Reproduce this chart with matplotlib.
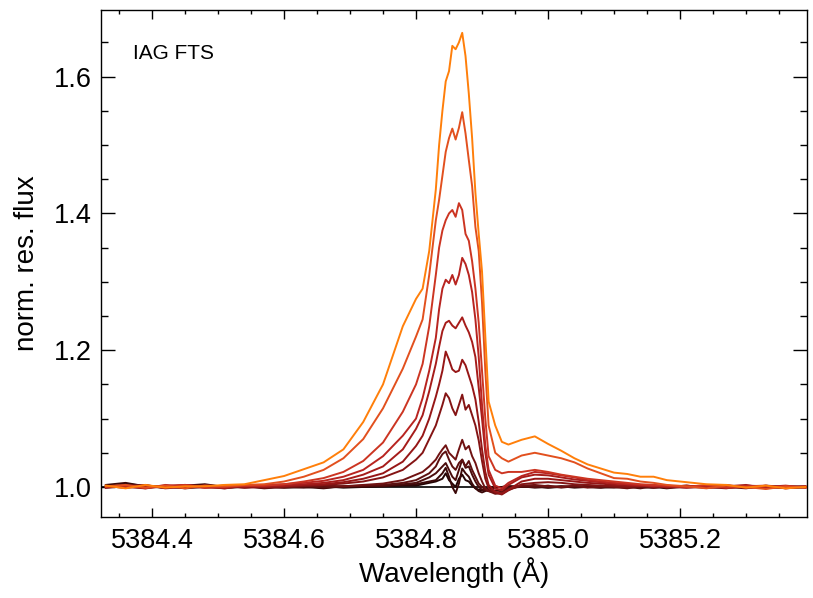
import matplotlib
matplotlib.use("Agg")
import matplotlib.pyplot as plt
from matplotlib.ticker import MultipleLocator

plt.rcParams['font.family'] = ['Liberation Sans', 'DejaVu Sans']

# wavelength grid (Angstrom)
wl = [5384.33, 5384.36, 5384.39, 5384.42, 5384.45, 5384.48, 5384.51, 5384.54,
      5384.57, 5384.60, 5384.63, 5384.66, 5384.69, 5384.72, 5384.75, 5384.78,
      5384.80, 5384.81, 5384.82, 5384.83, 5384.835, 5384.84, 5384.845, 5384.85,
      5384.855, 5384.86, 5384.865, 5384.87, 5384.875, 5384.88, 5384.885, 5384.89,
      5384.895, 5384.90, 5384.905, 5384.91, 5384.92, 5384.93, 5384.94,
      5384.96, 5384.98, 5385.00, 5385.02, 5385.04, 5385.06, 5385.08, 5385.10,
      5385.12, 5385.14, 5385.16, 5385.18, 5385.21, 5385.24, 5385.27, 5385.30,
      5385.33, 5385.36, 5385.39]

# residual flux profiles, strongest first
f01 = [1.002, 0.998, 1.003, 0.999, 1.001, 1.001, 1.003, 1.004, 1.010, 1.016, 1.026, 1.036, 1.055, 1.095, 1.150, 1.235,
       1.275, 1.290, 1.345, 1.435, 1.500, 1.550, 1.593, 1.608, 1.645, 1.640, 1.650, 1.664, 1.630, 1.575, 1.510, 1.430,
       1.370, 1.315, 1.220, 1.125, 1.090, 1.066, 1.062,
       1.069, 1.074, 1.063, 1.053, 1.042, 1.033, 1.027, 1.021, 1.019, 1.015, 1.015, 1.010, 1.007, 1.004, 1.003, 0.999,
       1.002, 0.998, 1.000]
f02 = [1.001, 1.003, 0.999, 1.002, 0.998, 1.002, 1.001, 1.003, 1.004, 1.008, 1.015, 1.025, 1.042, 1.070, 1.115, 1.173,
       1.220, 1.245, 1.310, 1.390, 1.420, 1.455, 1.490, 1.510, 1.524, 1.508, 1.525, 1.548, 1.517, 1.478, 1.440, 1.380,
       1.345, 1.270, 1.170, 1.090, 1.050, 1.042, 1.037,
       1.046, 1.050, 1.046, 1.042, 1.036, 1.027, 1.020, 1.013, 1.012, 1.008, 1.006, 1.003, 1.001, 0.998, 1.002, 1.000,
       0.997, 1.001, 0.999]
f03 = [1.000, 1.002, 0.999, 1.001, 1.003, 0.999, 1.000, 1.002, 1.002, 1.004, 1.008, 1.013, 1.022, 1.038, 1.065, 1.110,
       1.150, 1.180, 1.235, 1.310, 1.350, 1.375, 1.390, 1.400, 1.405, 1.395, 1.415, 1.405, 1.370, 1.360, 1.330, 1.290,
       1.240, 1.170, 1.100, 1.045, 1.025, 1.020, 1.022,
       1.022, 1.025, 1.022, 1.018, 1.015, 1.012, 1.010, 1.008, 1.006, 1.004, 1.003, 1.002, 1.000, 1.003, 0.999, 1.001,
       1.002, 0.998, 1.001]
f04 = [1.000, 1.002, 0.998, 1.003, 1.001, 0.999, 1.002, 1.001, 1.003, 1.004, 1.006, 1.009, 1.015, 1.025, 1.045, 1.075,
       1.100, 1.130, 1.170, 1.218, 1.260, 1.290, 1.303, 1.298, 1.310, 1.296, 1.310, 1.335, 1.326, 1.310, 1.285, 1.245,
       1.190, 1.120, 1.060, 1.025, 1.002, 0.998, 1.006,
       1.016, 1.022, 1.020, 1.017, 1.014, 1.010, 1.008, 1.006, 1.004, 1.003, 1.001, 1.002, 0.999, 1.001, 1.003, 0.999,
       1.000, 1.002, 0.999]
f05 = [1.001, 0.999, 1.002, 1.000, 1.003, 1.001, 0.998, 1.002, 1.001, 1.002, 1.004, 1.006, 1.010, 1.018, 1.030, 1.055,
       1.085, 1.105, 1.140, 1.180, 1.205, 1.228, 1.240, 1.243, 1.236, 1.232, 1.240, 1.248, 1.236, 1.226, 1.212, 1.190,
       1.145, 1.100, 1.050, 1.018, 0.998, 0.995, 1.003,
       1.014, 1.018, 1.017, 1.014, 1.011, 1.009, 1.007, 1.005, 1.004, 1.002, 1.003, 1.000, 1.002, 0.999, 1.001, 1.003,
       0.998, 1.001, 1.000]
f06 = [0.999, 1.001, 1.003, 0.998, 1.000, 1.002, 1.001, 0.999, 1.000, 1.001, 1.003, 1.004, 1.007, 1.012, 1.020, 1.037,
       1.060, 1.075, 1.100, 1.132, 1.150, 1.170, 1.198, 1.186, 1.172, 1.168, 1.170, 1.186, 1.178, 1.163, 1.148, 1.128,
       1.095, 1.055, 1.022, 1.003, 0.993, 0.990, 0.996,
       1.008, 1.012, 1.012, 1.010, 1.008, 1.006, 1.005, 1.003, 1.002, 1.001, 1.002, 0.999, 1.001, 1.000, 0.998, 1.002,
       1.001, 0.999, 1.001]
f07 = [1.002, 1.000, 0.998, 1.001, 1.003, 0.999, 1.000, 1.002, 0.999, 1.001, 1.002, 1.003, 1.005, 1.008, 1.014, 1.025,
       1.040, 1.050, 1.070, 1.090, 1.105, 1.120, 1.137, 1.130, 1.115, 1.105, 1.120, 1.135, 1.113, 1.120, 1.105, 1.090,
       1.068, 1.038, 1.012, 0.998, 0.992, 0.989, 0.995,
       1.004, 1.006, 1.007, 1.006, 1.004, 1.003, 1.002, 1.001, 1.000, 1.002, 0.999, 1.001, 1.000, 1.002, 0.999, 1.000,
       1.001, 0.998, 1.000]
f08 = [1.000, 1.003, 1.001, 0.999, 1.002, 1.000, 0.998, 1.001, 1.000, 0.999, 1.001, 1.002, 1.001, 1.003, 1.005, 1.010,
       1.018, 1.022, 1.030, 1.040, 1.048, 1.055, 1.061, 1.050, 1.045, 1.040, 1.055, 1.069, 1.055, 1.060, 1.045, 1.035,
       1.020, 1.008, 0.998, 0.994, 0.990, 0.991, 0.996,
       1.002, 1.003, 1.001, 1.000, 1.002, 0.999, 1.001, 1.000, 0.998, 1.001, 1.002, 1.000, 0.999, 1.001, 1.000, 0.998,
       1.002, 1.000, 0.999]
f09 = [1.001, 0.999, 1.002, 1.000, 0.999, 1.003, 1.000, 1.001, 0.998, 1.000, 1.002, 0.999, 1.001, 1.002, 1.003, 1.006,
       1.010, 1.015, 1.020, 1.030, 1.040, 1.048, 1.052, 1.040, 1.030, 1.025, 1.035, 1.040, 1.030, 1.038, 1.025, 1.015,
       1.005, 1.000, 0.996, 0.994, 0.992, 0.993, 0.998,
       1.001, 1.000, 1.002, 0.999, 1.001, 1.000, 0.999, 1.002, 1.000, 0.998, 1.001, 1.000, 1.002, 0.999, 1.000, 1.001,
       0.999, 1.000, 1.001]
f10 = [0.999, 1.002, 1.000, 1.001, 0.998, 1.000, 1.002, 0.999, 1.001, 1.000, 0.999, 1.001, 1.000, 1.002, 1.001, 1.004,
       1.006, 1.010, 1.014, 1.020, 1.025, 1.030, 1.035, 1.025, 1.015, 1.010, 1.025, 1.040, 1.028, 1.030, 1.018, 1.008,
       1.000, 0.996, 0.995, 0.994, 0.995, 0.996, 0.999,
       1.000, 1.001, 0.999, 1.001, 1.000, 1.002, 1.000, 0.999, 1.001, 1.000, 0.999, 1.001, 1.000, 0.999, 1.002, 1.000,
       1.001, 0.999, 1.000]
f11 = [1.003, 1.006, 1.001, 0.999, 1.002, 1.004, 1.000, 1.001, 0.999, 1.001, 1.000, 0.998, 1.001, 1.000, 1.002, 1.003,
       1.004, 1.006, 1.008, 1.010, 1.015, 1.020, 1.028, 1.015, 1.000, 0.991, 1.005, 1.027, 1.020, 1.015, 1.005, 0.998,
       0.994, 0.992, 0.994, 0.997, 0.999, 1.000, 1.001,
       1.001, 0.999, 1.000, 1.001, 0.999, 1.000, 1.002, 1.000, 0.999, 1.001, 1.000, 0.998, 1.001, 1.000, 1.001, 0.999,
       1.000, 1.001, 1.000]
f12 = [1.000, 1.004, 1.002, 0.999, 1.001, 1.003, 0.999, 1.000, 1.001, 0.999, 1.000, 1.001, 0.999, 1.000, 1.001, 1.002,
       1.002, 1.004, 1.006, 1.008, 1.010, 1.012, 1.020, 1.010, 1.005, 1.000, 1.012, 1.018, 1.010, 1.008, 1.002, 0.998,
       0.996, 0.995, 0.997, 0.999, 1.000, 1.000, 1.001,
       1.000, 1.001, 0.999, 1.000, 1.001, 1.000, 0.999, 1.000, 1.001, 1.000, 0.999, 1.001, 1.000, 1.000, 0.999, 1.001,
       1.000, 0.999, 1.000]
ref_level = 1.0

profiles = [f01, f02, f03, f04, f05, f06, f07, f08, f09, f10, f11, f12]
colors = ['#ff7f0a', '#e2501e', '#cc3522', '#b82420', '#a61c1a', '#961616',
          '#841414', '#701212', '#5c1010', '#4a0c0c', '#3a0808', '#240505']

fig = plt.figure(figsize=(8.13, 5.98), dpi=100)
ax = fig.add_axes([101/813, 81/598, 706/813, 507/598])

ax.axhline(ref_level, color='black', lw=1.2, zorder=1)
for i in range(len(profiles) - 1, -1, -1):
    ax.plot(wl, profiles[i], color=colors[i], lw=1.4, zorder=2 + len(profiles) - i)

ax.set_xlim(5384.3227, 5385.3924)
ax.set_ylim(0.9561, 1.6974)
ax.xaxis.set_major_locator(MultipleLocator(0.2))
ax.xaxis.set_minor_locator(MultipleLocator(0.05))
ax.yaxis.set_major_locator(MultipleLocator(0.2))
ax.yaxis.set_minor_locator(MultipleLocator(0.05))
ax.xaxis.set_major_formatter(plt.FormatStrFormatter('%.1f'))
ax.yaxis.set_major_formatter(plt.FormatStrFormatter('%.1f'))

ax.tick_params(which='both', direction='in', top=True, right=True, width=1, labelsize=19.5)
ax.tick_params(axis='x', which='major', length=6.5, pad=8)
ax.tick_params(axis='x', which='minor', length=3)
ax.tick_params(axis='y', which='major', length=10, pad=6.5)
ax.tick_params(axis='y', which='minor', length=5)
for s in ax.spines.values():
    s.set_linewidth(1)

ax.set_xlabel('Wavelength (Å)', fontsize=20, labelpad=2)
ax.set_ylabel('norm. res. flux', fontsize=20, labelpad=10)
ax.text(0.045, 0.915, 'IAG FTS', transform=ax.transAxes, fontsize=15, ha='left', va='center')

fig.savefig('out.png', dpi=100)
